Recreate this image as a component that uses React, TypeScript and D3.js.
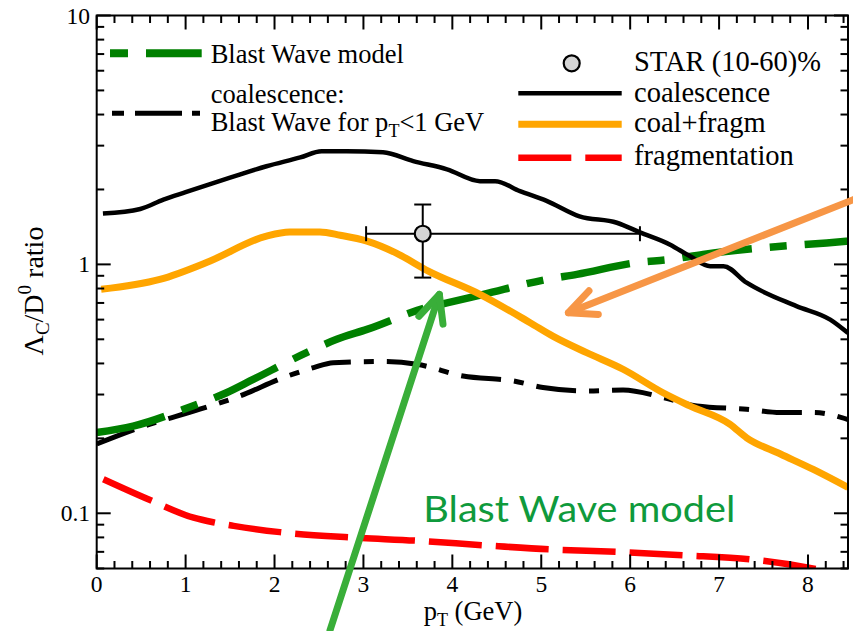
import React from 'react';
import * as d3 from 'd3';

const W = 853;
const H = 631;

// coalescence (full calculation)
const coalPt = [0.07, 0.49, 0.75, 1.0, 1.5, 1.91, 2.29, 2.53, 2.81, 3.22, 3.56, 3.94, 4.31, 4.48, 4.76, 5.06, 5.43, 5.85, 6.11, 6.45, 6.67, 6.9, 7.05, 7.31, 7.87, 8.25, 8.45];
const coalVal = [1.6, 1.67, 1.82, 1.95, 2.23, 2.48, 2.69, 2.85, 2.85, 2.82, 2.6, 2.41, 2.16, 2.16, 1.97, 1.8, 1.56, 1.47, 1.345, 1.2, 1.08, 0.984, 0.984, 0.844, 0.68, 0.6, 0.53];

// coalescence + fragmentation
const coalFragPt = [0.05, 0.71, 1.27, 1.91, 2.17, 2.51, 2.74, 3.04, 3.37, 3.73, 4.31, 4.875, 5.13, 5.51, 5.92, 6.37, 6.67, 7.12, 7.31, 7.69, 8.06, 8.45];
const coalFragVal = [0.794, 0.87, 1.03, 1.3, 1.35, 1.35, 1.31, 1.24, 1.11, 0.94, 0.758, 0.583, 0.515, 0.442, 0.379, 0.305, 0.27, 0.228, 0.201, 0.173, 0.15, 0.127];

// Blast Wave model
const bwPt = [0.0, 0.41, 1.08, 1.46, 1.76, 2.36, 2.7, 3.04, 3.71, 3.94, 4.35, 5.06, 5.4, 6.07, 6.45, 6.82, 7.5, 8.21, 8.45];
const bwVal = [0.211, 0.224, 0.27, 0.305, 0.345, 0.442, 0.5, 0.548, 0.67, 0.7, 0.758, 0.87, 0.912, 1.016, 1.047, 1.097, 1.167, 1.22, 1.24];

// coalescence with Blast Wave below 1 GeV
const coalBwPt = [0.0, 0.5, 1.16, 1.61, 2.1, 2.44, 2.66, 3.22, 3.6, 4.12, 4.69, 5.02, 5.51, 5.92, 6.37, 6.75, 7.31, 7.69, 8.06, 8.45];
const coalBwVal = [0.19, 0.222, 0.262, 0.296, 0.351, 0.385, 0.403, 0.407, 0.397, 0.356, 0.34, 0.32, 0.31, 0.313, 0.292, 0.27, 0.262, 0.254, 0.254, 0.238];

// fragmentation
const fragPt = [0.075, 0.6, 1.09, 1.31, 1.54, 2.06, 2.85, 3.6, 4.35, 5.1, 5.85, 6.6, 7.35, 7.99, 8.45];
const fragVal = [0.137, 0.113, 0.096, 0.092, 0.089, 0.084, 0.08, 0.0776, 0.0744, 0.0716, 0.07, 0.0678, 0.0653, 0.0606, 0.056];

// STAR (10-60)% measurement
const starPt = [3.667];
const starVal = [1.328];
const starPtLow = [3.03];
const starPtHigh = [6.11];
const starValLow = [0.885];
const starValHigh = [1.74];

// annotation arrows (data coordinates: [pT, ratio])
const greenArrowFrom: [number, number] = [2.624, 0.0339];
const greenArrowTo: [number, number] = [3.854, 0.758];
const orangeArrowFrom: [number, number] = [8.51, 1.82];
const orangeArrowTo: [number, number] = [5.305, 0.64];

const xMajorTicks = [0, 1, 2, 3, 4, 5, 6, 7, 8];
const yMajorTicks = [0.1, 1, 10];
const yTickLabels = ['0.1', '1', '10'];

const SERIF = '"Liberation Serif", "Times New Roman", serif';

function zip(a: number[], b: number[]): [number, number][] {
  return a.map((v, i) => [v, b[i]] as [number, number]);
}

function arrowHead(tip: [number, number], from: [number, number], len: number, angleDeg: number) {
  const dx = from[0] - tip[0];
  const dy = from[1] - tip[1];
  const n = Math.hypot(dx, dy);
  const ux = dx / n;
  const uy = dy / n;
  const a = (angleDeg * Math.PI) / 180;
  const rot = (s: number) => [
    tip[0] + len * (ux * Math.cos(s * a) - uy * Math.sin(s * a)),
    tip[1] + len * (ux * Math.sin(s * a) + uy * Math.cos(s * a)),
  ];
  const p1 = rot(1);
  const p2 = rot(-1);
  return `M${p1[0]},${p1[1]}L${tip[0]},${tip[1]}L${p2[0]},${p2[1]}`;
}

export default function App() {
  const left = 96.7;
  const right = 848;
  const top = 15.5;
  const bottom = 568.5;

  const x = d3.scaleLinear().domain([0, 8.45]).range([left, right]);
  const y = d3.scaleLog().domain([0.06, 10]).range([bottom, top]);

  const line = d3
    .line<[number, number]>()
    .x((d) => x(d[0]))
    .y((d) => y(d[1]))
    .curve(d3.curveMonotoneX);

  const xMinorTicks = d3.range(0, 8.45, 0.2).filter((v) => Math.abs(v - Math.round(v)) > 1e-6);
  const yMinorTicks: number[] = [];
  [0.01, 0.1, 1].forEach((dec) => {
    for (let k = 2; k <= 9; k++) {
      const v = dec * k;
      if (v >= 0.06 - 1e-9 && v <= 10) yMinorTicks.push(v);
    }
  });

  const majLen = 14;
  const minLen = 7.5;

  const gFrom: [number, number] = [x(greenArrowFrom[0]), y(greenArrowFrom[1])];
  const gTo: [number, number] = [x(greenArrowTo[0]), y(greenArrowTo[1])];
  const oFrom: [number, number] = [x(orangeArrowFrom[0]), y(orangeArrowFrom[1])];
  const oTo: [number, number] = [x(orangeArrowTo[0]), y(orangeArrowTo[1])];

  return (
    <svg
      width={W}
      height={H}
      viewBox={`0 0 ${W} ${H}`}
      style={{ position: 'absolute', left: 0, top: 0, background: '#fff' }}
    >
      <defs>
        <clipPath id="plot-clip">
          <rect x={left} y={top} width={right - left} height={bottom - top} />
        </clipPath>
      </defs>
      <rect x={0} y={0} width={W} height={H} fill="#fff" />

      {/* curves */}
      <g clipPath="url(#plot-clip)" fill="none">
        <path d={line(zip(fragPt, fragVal)) || ''} stroke="#ff0000" strokeWidth={6.5} strokeDasharray="53 14" />
        <path d={line(zip(coalBwPt, coalBwVal)) || ''} stroke="#000" strokeWidth={5} strokeDasharray="40 13 10 13" />
        <path d={line(zip(bwPt, bwVal)) || ''} stroke="#008000" strokeWidth={7.5} strokeDasharray="70 18 17 18" />
        <path d={line(zip(coalFragPt, coalFragVal)) || ''} stroke="#ffa500" strokeWidth={7} />
        <path d={line(zip(coalPt, coalVal)) || ''} stroke="#000" strokeWidth={4.5} />
      </g>

      {/* STAR point with error bars */}
      {starPt.map((p, i) => (
        <g key={i} stroke="#000" strokeWidth={2}>
          <line x1={x(starPtLow[i])} x2={x(starPtHigh[i])} y1={y(starVal[i])} y2={y(starVal[i])} />
          <line x1={x(starPtLow[i])} x2={x(starPtLow[i])} y1={y(starVal[i]) - 7.5} y2={y(starVal[i]) + 7.5} />
          <line x1={x(starPtHigh[i])} x2={x(starPtHigh[i])} y1={y(starVal[i]) - 7.5} y2={y(starVal[i]) + 7.5} />
          <line x1={x(p)} x2={x(p)} y1={y(starValLow[i])} y2={y(starValHigh[i])} />
          <line x1={x(p) - 8.5} x2={x(p) + 8.5} y1={y(starValHigh[i])} y2={y(starValHigh[i])} />
          <line x1={x(p) - 8.5} x2={x(p) + 8.5} y1={y(starValLow[i])} y2={y(starValLow[i])} />
          <circle cx={x(p)} cy={y(starVal[i])} r={8} fill="#d4d4d4" strokeWidth={2.2} />
        </g>
      ))}

      {/* frame and ticks */}
      <g stroke="#000" strokeWidth={2} fill="none">
        <rect x={left} y={top} width={right - left} height={bottom - top} />
        {xMajorTicks.map((t) => (
          <g key={`xM${t}`}>
            <line x1={x(t)} x2={x(t)} y1={bottom} y2={bottom - majLen} />
            <line x1={x(t)} x2={x(t)} y1={top} y2={top + majLen} />
          </g>
        ))}
        {xMinorTicks.map((t) => (
          <g key={`xm${t}`}>
            <line x1={x(t)} x2={x(t)} y1={bottom} y2={bottom - minLen} />
            <line x1={x(t)} x2={x(t)} y1={top} y2={top + minLen} />
          </g>
        ))}
        {yMajorTicks.map((t) => (
          <g key={`yM${t}`}>
            <line x1={left} x2={left + majLen} y1={y(t)} y2={y(t)} />
            <line x1={right} x2={right - majLen} y1={y(t)} y2={y(t)} />
          </g>
        ))}
        {yMinorTicks.map((t) => (
          <g key={`ym${t}`}>
            <line x1={left} x2={left + minLen} y1={y(t)} y2={y(t)} />
            <line x1={right} x2={right - minLen} y1={y(t)} y2={y(t)} />
          </g>
        ))}
      </g>

      {/* tick labels */}
      <g fontFamily={SERIF} fontSize={23.5} fill="#000">
        {xMajorTicks.map((t) => (
          <text key={`xl${t}`} x={x(t)} y={592} textAnchor="middle">
            {String(t)}
          </text>
        ))}
        {yMajorTicks.map((t, i) => (
          <text key={`yl${t}`} x={90} y={y(t) + 8} textAnchor="end">
            {yTickLabels[i]}
          </text>
        ))}
      </g>

      {/* axis titles */}
      <text x={473} y={620} textAnchor="middle" fontFamily={SERIF} fontSize={26.5}>
        p<tspan dy={6} fontSize={18}>T</tspan>
        <tspan dy={-6}> (GeV)</tspan>
      </text>
      <text transform="translate(43,291) rotate(-90)" textAnchor="middle" fontFamily={SERIF} fontSize={28}>
        Λ<tspan dy={6} fontSize={19}>C</tspan>
        <tspan dy={-6}>/D</tspan>
        <tspan dy={-12} fontSize={19}>0</tspan>
        <tspan dy={12}> ratio</tspan>
      </text>

      {/* left legend */}
      <g fontFamily={SERIF} fontSize={26.5} fill="#000">
        <line x1={110} x2={201.7} y1={53.3} y2={53.3} stroke="#008000" strokeWidth={8} strokeDasharray="18 18 56" />
        <text x={210.7} y={62.5}>Blast Wave model</text>
        <line x1={112} x2={200} y1={113.3} y2={113.3} stroke="#000" strokeWidth={5} strokeDasharray="12 11 47 10 8" />
        <text x={210.7} y={102.5}>coalescence:</text>
        <text x={210.7} y={130.5}>
          Blast Wave for p<tspan dy={6} fontSize={18}>T</tspan>
          <tspan dy={-6}>&lt;1 GeV</tspan>
        </text>
      </g>

      {/* right legend */}
      <g fontFamily={SERIF} fontSize={28.5} fill="#000">
        <circle cx={571.7} cy={63.3} r={8} fill="#d4d4d4" stroke="#000" strokeWidth={2.2} />
        <text x={634} y={70.7}>STAR (10-60)%</text>
        <line x1={518.3} x2={621.7} y1={93.3} y2={93.3} stroke="#000" strokeWidth={4.5} />
        <text x={634} y={101.7}>coalescence</text>
        <line x1={518.3} x2={621.7} y1={124.3} y2={124.3} stroke="#ffa500" strokeWidth={7} />
        <text x={634} y={131.5}>coal+fragm</text>
        <line x1={518.3} x2={621.7} y1={157.7} y2={157.7} stroke="#ff0000" strokeWidth={6.5} strokeDasharray="53 14" />
        <text x={634} y={165}>fragmentation</text>
      </g>

      {/* annotation */}
      <text
        x={423.3}
        y={521.7}
        fontFamily="Lato, 'Open Sans', sans-serif"
        fontSize={37}
        fill="#0f9a3c"
        textLength={312}
        lengthAdjust="spacingAndGlyphs"
      >
        Blast Wave model
      </text>
      <g fill="none" strokeWidth={7} strokeLinecap="round" strokeLinejoin="round">
        <line x1={gFrom[0]} y1={gFrom[1]} x2={gTo[0]} y2={gTo[1]} stroke="#39ae39" />
        <path d={arrowHead(gTo, gFrom, 30, 25)} stroke="#39ae39" />
        <line x1={oFrom[0]} y1={oFrom[1]} x2={oTo[0]} y2={oTo[1]} stroke="#f79646" />
        <path d={arrowHead(oTo, oFrom, 30, 25)} stroke="#f79646" />
      </g>
    </svg>
  );
}
